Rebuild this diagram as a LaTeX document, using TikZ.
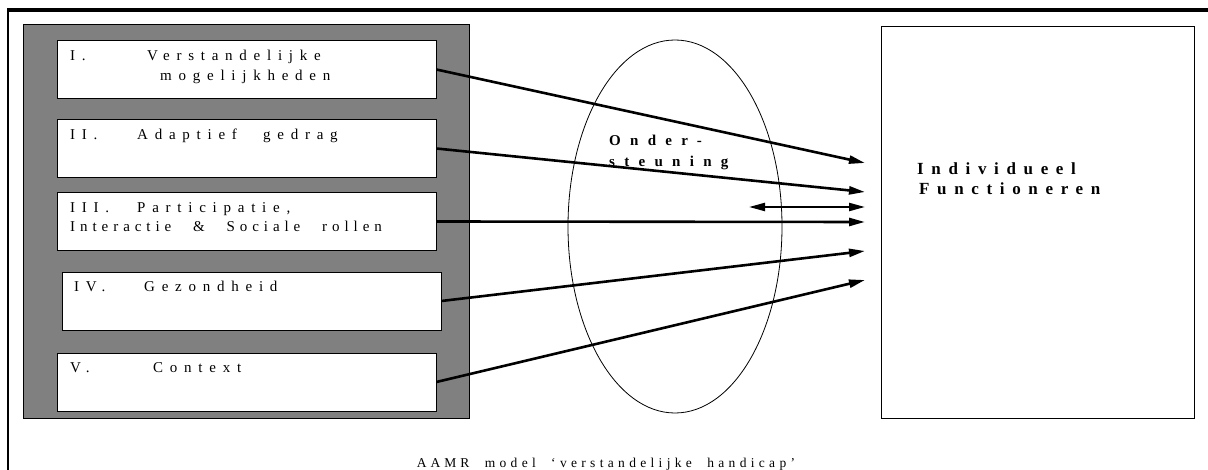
\documentclass[tikz,border=0pt]{standalone}
\usepackage{fontspec}
\setmainfont{Liberation Serif}
\newfontfamily\widefont[LetterSpace=45,WordSpace=2.5]{Liberation Serif}
\newfontfamily\widerfont[LetterSpace=62,WordSpace=2]{Liberation Serif}
\newfontfamily\captionfont[LetterSpace=32,WordSpace=2]{Liberation Serif}
\usetikzlibrary{shapes.geometric,arrows.meta}

\begin{document}
\begin{tikzpicture}[x=1pt,y=-1pt,
  panel/.style={draw,line width=1pt,fill=gray,inner sep=0pt},
  itembox/.style={draw,line width=0.8pt,fill=white,minimum width=379pt,minimum height=58pt,inner sep=0pt},
  lbl/.style={anchor=base west,inner sep=0pt,font=\widefont\fontsize{15}{19}\selectfont},
  flow/.style={line width=2.6pt,-{Triangle[length=16pt,width=8pt]}},
  ]
\clip (0,0) rectangle (1208,470);

% outer frame
\draw[line width=2pt] (8,490) -- (8,9);
\draw[line width=3.2pt] (7,10) -- (1230,10);

% left panel with the five items
\node[panel,minimum width=446pt,minimum height=393pt] (panel) at (246,221.5) {};
\node[itembox] (b1) at (246.5,69.5) {};
\node[itembox] (b2) at (246.5,148.5) {};
\node[itembox] (b3) at (246.5,221.5) {};
\node[itembox] (b4) at (251.5,301) {};
\node[itembox] (b5) at (246.5,382) {};

\node[lbl] (t1) at (70,61) {\makebox[77pt][l]{I.}Verstandelijke};
\node[lbl] (t1b) at (160,81) {mogelijkheden};
\node[lbl] (t2) at (70,140) {\makebox[67pt][l]{II.}Adaptief gedrag};
\node[lbl] (t3) at (70,213) {\makebox[67pt][l]{III.}Participatie,};
\node[lbl] (t3b) at (70,232) {\addfontfeature{LetterSpace=33}Interactie \& Sociale rollen};
\node[lbl] (t4) at (74,292) {\makebox[70pt][l]{IV.}Gezondheid};
\node[lbl] (t5) at (70,373) {\makebox[83pt][l]{V.}Context};

% support
\node[draw,ellipse,line width=0.8pt,inner sep=0pt,minimum width=214pt,minimum height=373pt] (steun) at (675,226.5) {};
\node[anchor=base west,inner sep=0pt,align=left,font=\widerfont\bfseries\fontsize{15}{21}\selectfont] (steuntxt) at (609,167) {Onder-\\steuning};

% outcome
\node[draw,line width=0.8pt,minimum width=313pt,minimum height=392pt,inner sep=0pt] (func) at (1037.5,222) {};
\node[anchor=base west,inner sep=0pt,align=left,font=\widefont\bfseries\fontsize{17}{20}\selectfont] (functxt) at (917,195) {Individueel\\\hspace*{2pt}Functioneren};

\coordinate (e1) at (865,163);
\coordinate (e2) at (865,192);
\coordinate (d1) at (749,207);
\coordinate (d2) at (865,207);
\coordinate (e3) at (865,222);
\coordinate (e4) at (865,251);
\coordinate (e5) at (865,280);

\draw[flow] (b1.east) -- (e1);
\draw[flow] (b2.east) -- (e2);
\draw[flow] (b3.east) -- (e3);
\draw[flow] (b4.east) -- (e4);
\draw[flow] (b5.east) -- (e5);
\draw[line width=2.2pt,{Triangle[length=16pt,width=8pt]}-{Triangle[length=16pt,width=8pt]}] (d1) -- (d2);

% caption
\node[anchor=base,inner sep=0pt,font=\captionfont\fontsize{13.5}{16}\selectfont] (caption) at (606,467) {A\kern4pt A\kern4pt M\kern4pt R model ‘verstandelijke handicap’};
\end{tikzpicture}
\end{document}
